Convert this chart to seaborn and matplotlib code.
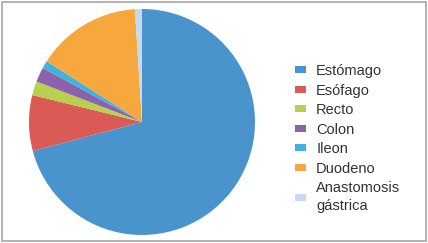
import matplotlib
matplotlib.use("Agg")
import matplotlib.pyplot as plt
import seaborn as sns
from matplotlib.patches import Rectangle

# Data (percent of cases)
categories = ["Estómago", "Esófago", "Recto", "Colon", "Ileon", "Duodeno", "Anastomosis\ngástrica"]
values = [71, 8, 2, 2.1, 1.1, 15, 1]
colors = ["#4A94CD", "#DA5B56", "#B9CF4E", "#8C62AA", "#3FB3DD", "#F6A83E", "#C6D9EE"]

sns.set_theme(style="white")
plt.rcParams['font.family'] = ['Liberation Sans', 'DejaVu Sans']
palette = sns.color_palette(colors)

fig = plt.figure(figsize=(4.28, 2.43), dpi=100)
ax = fig.add_axes([29 / 428, 8 / 243, 226 / 428, 226 / 243])
wedges, _ = ax.pie(values, colors=palette, startangle=90, counterclock=False,
                   radius=1.0, wedgeprops=dict(linewidth=0))
ax.set_xlim(-1, 1)
ax.set_ylim(-1, 1)

leg = fig.legend(wedges, categories, loc="upper left", bbox_to_anchor=(295 / 428, 1 - 64 / 243),
                 frameon=False, fontsize=10.5, handlelength=0.75, handleheight=0.35,
                 handletextpad=0.7, labelspacing=0.38, borderaxespad=0, borderpad=0)
for t in leg.get_texts():
    t.set_color("#333333")
    t.set_linespacing(1.35)

fig.patches.append(Rectangle((2 / 428, 2 / 243), 424 / 428, 239 / 243, transform=fig.transFigure,
                             fill=False, edgecolor="#A6A6A6", linewidth=1.2))

fig.savefig("out.png", dpi=100)
